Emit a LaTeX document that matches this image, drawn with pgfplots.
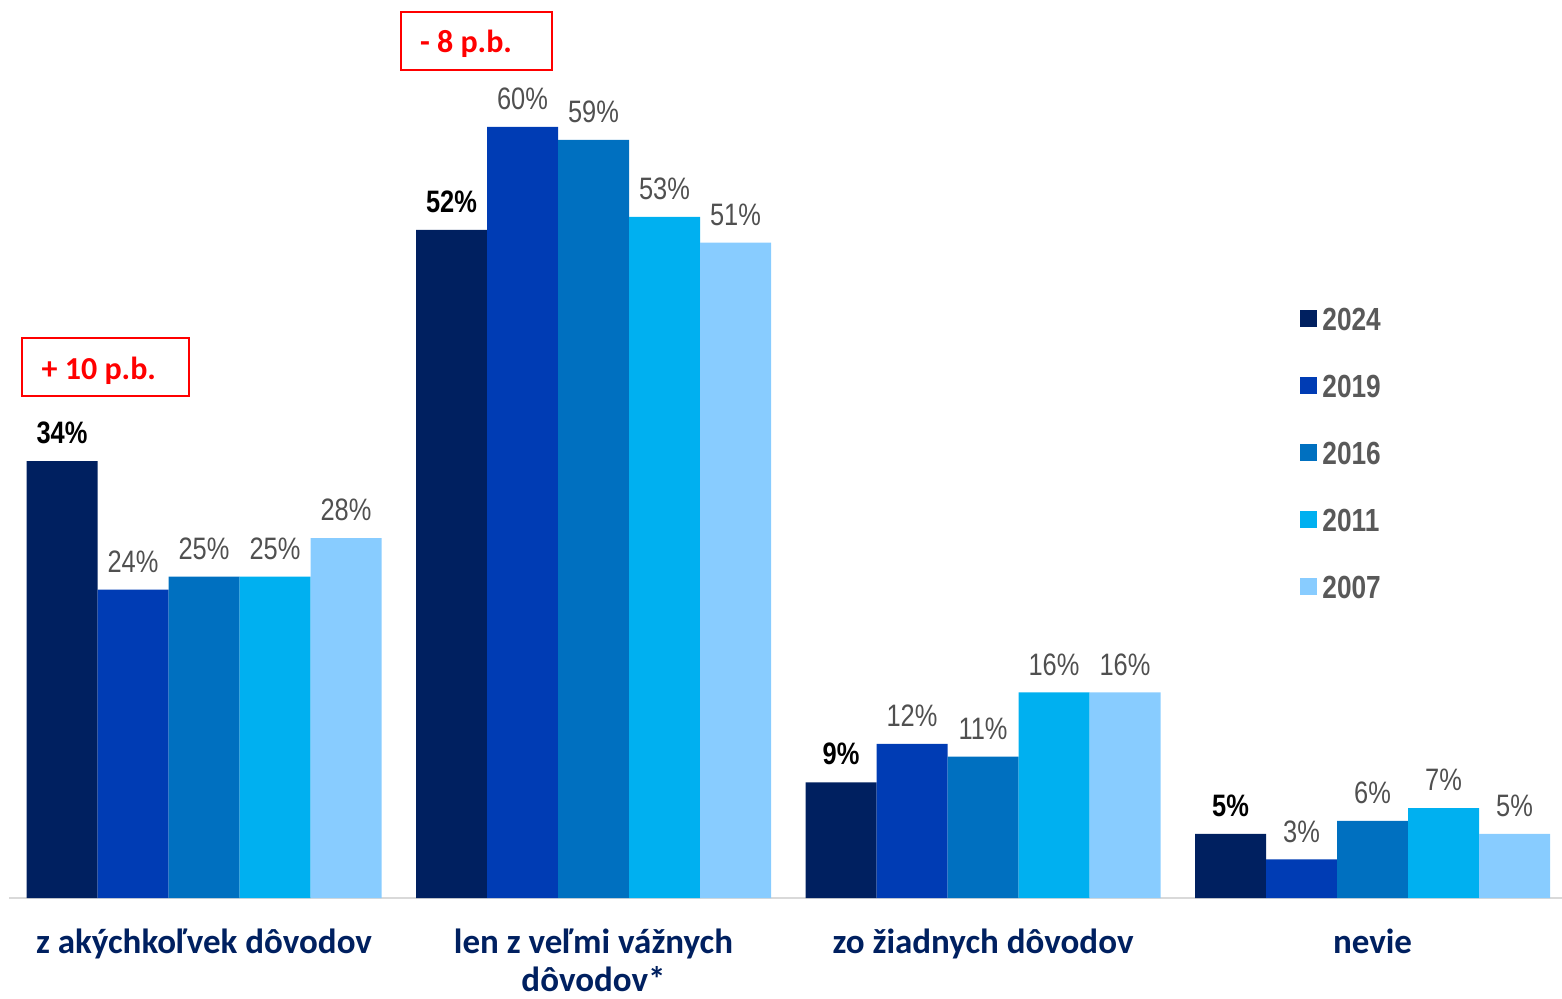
\documentclass[border=0pt]{standalone}
\usepackage{pgfplots}
\pgfplotsset{compat=1.18}
\usepackage{fontspec}
\setmainfont{Carlito}
\newfontfamily\narrow[FakeStretch=0.82]{Liberation Sans}

\definecolor{c2024}{HTML}{002060}
\definecolor{c2019}{HTML}{003CB4}
\definecolor{c2016}{HTML}{0070C0}
\definecolor{c2011}{HTML}{00B0F0}
\definecolor{c2007}{HTML}{88CCFF}
\definecolor{labgray}{HTML}{505050}
\definecolor{leggray}{HTML}{595959}
\definecolor{basegray}{HTML}{D9D9D9}

\begin{document}
\begin{tikzpicture}[x=1pt,y=1pt]
\useasboundingbox (-4.625,-50) rectangle (776.375,449);
\begin{axis}[
    at={(0,0)}, anchor=south west,
    scale only axis,
    width=776.375pt, height=449pt,
    xmin=-0.5, xmax=3.4865,
    ymin=0, ymax=69.88,
    ybar=0pt, bar width=35.5pt,
    clip=false,
    /pgf/number format/assume math mode=true,
    axis y line=none,
    axis x line*=bottom,
    x axis line style={draw=basegray, line width=1pt},
    major tick length=0pt,
    ytick=\empty,
    xtick={0,1,2,3},
    xticklabels={z akýchkoľvek dôvodov, len z veľmi vážnych\\dôvodov*, zo žiadnych dôvodov, nevie},
    xticklabel style={font=\bfseries\fontsize{17.5}{19}\selectfont, text=c2024, align=center, yshift=-12pt},
    nodes near coords={\pgfmathprintnumber{\pgfplotspointmeta}\%},
    every node near coord/.append style={font=\narrow\fontsize{15.5}{15.5}\selectfont, text=labgray, yshift=5pt},
    legend style={at={(0.8313,0.664)}, anchor=north west, draw=none, fill=none,
        font=\narrow\bfseries\fontsize{16}{16}\selectfont, text=leggray,
        row sep=17pt, inner sep=0pt,
        nodes={inner sep=2.5pt, text height=11.5pt, text depth=0pt}},
    legend cell align=left,
    legend image code/.code={\fill[#1] (0pt,-4.25pt) rectangle (8.5pt,4.25pt);},
]
\addplot[fill=c2024, draw=none,
    every node near coord/.append style={font=\narrow\bfseries\fontsize{15.5}{15.5}\selectfont, text=black}]
    coordinates {(0,34) (1,52) (2,9) (3,5)};
\addplot[fill=c2019, draw=none] coordinates {(0,24) (1,60) (2,12) (3,3)};
\addplot[fill=c2016, draw=none] coordinates {(0,25) (1,59) (2,11) (3,6)};
\addplot[fill=c2011, draw=none] coordinates {(0,25) (1,53) (2,16) (3,7)};
\addplot[fill=c2007, draw=none] coordinates {(0,28) (1,51) (2,16) (3,5)};
\legend{2024,2019,2016,2011,2007}

\draw[red, line width=1pt] (axis cs:-0.467,43.58) rectangle (axis cs:-0.0385,39.07);
\node[text=red, font=\bfseries\fontsize{16}{16}\selectfont] at (axis cs:-0.27,41.0) {+ 10 p.b.};
\draw[red, line width=1pt] (axis cs:0.5058,68.95) rectangle (axis cs:0.8935,64.44);
\node[text=red, font=\bfseries\fontsize{16}{16}\selectfont] at (axis cs:0.6727,66.5) {- 8 p.b.};
\end{axis}
\end{tikzpicture}
\end{document}
